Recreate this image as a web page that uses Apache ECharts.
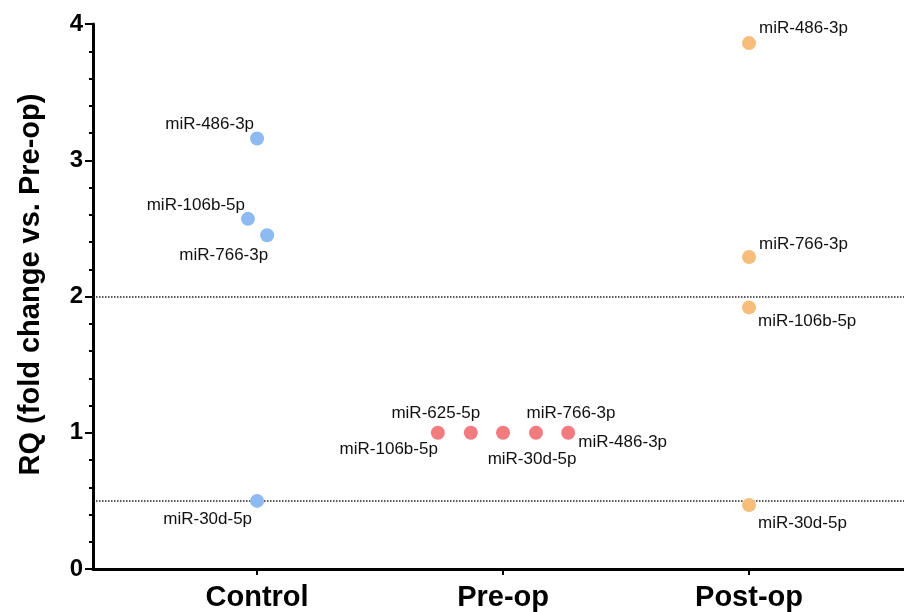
<!DOCTYPE html>
<html>
<head>
<meta charset="utf-8">
<script src="https://cdn.jsdelivr.net/npm/echarts@6/dist/echarts.min.js"></script>
<style>
html,body{margin:0;padding:0;background:#fff;}
#c{width:904px;height:612px;}
</style>
</head>
<body>
<div id="c"></div>
<script>
// ---- data ----
const categories = ['Control', 'Pre-op', 'Post-op'];
const yTicks = [0, 1, 2, 3, 4];
const thresholds = [2, 0.5];

const controlNames = ['miR-486-3p', 'miR-106b-5p', 'miR-766-3p', 'miR-30d-5p'];
const controlValues = [3.16, 2.57, 2.45, 0.50];
const controlJitter = [0, -0.037, 0.041, 0];

const preopNames = ['miR-106b-5p', 'miR-625-5p', 'miR-30d-5p', 'miR-766-3p', 'miR-486-3p'];
const preopValues = [1, 1, 1, 1, 1];
const preopJitter = [-0.265, -0.131, 0, 0.134, 0.265];

const postopNames = ['miR-486-3p', 'miR-766-3p', 'miR-106b-5p', 'miR-30d-5p'];
const postopValues = [3.86, 2.29, 1.92, 0.47];
const postopJitter = [0, 0, 0, 0];

// ---- label placement (style) ----
const controlLabelPos = [
  {position: 'left', offset: [9, -14]},
  {position: 'left', offset: [9, -14]},
  {position: 'left', offset: [13, 20]},
  {position: 'left', offset: [7, 18]}
];
const preopLabelPos = [
  {position: 'left', offset: [12, 17]},
  {position: 'top', offset: [-35, 1]},
  {position: 'bottom', offset: [29, 6]},
  {position: 'top', offset: [35, 1]},
  {position: 'right', offset: [-2, 10]}
];
const postopLabelPos = [
  {position: 'right', offset: [-2, -15]},
  {position: 'right', offset: [-2, -13]},
  {position: 'right', offset: [-3, 14]},
  {position: 'right', offset: [-3, 18]}
];

const FONT = "'Liberation Sans', Arial, Helvetica, sans-serif";

function build(catIndex, names, values, jitter, labelPos) {
  return names.map((n, i) => ({
    name: n,
    value: [catIndex + 1 + jitter[i], values[i]],
    label: {position: labelPos[i].position, offset: labelPos[i].offset}
  }));
}

const labelStyle = {show: true, formatter: '{b}', fontFamily: FONT, fontSize: 17, color: '#111', distance: 5};

const chart = echarts.init(document.getElementById('c'), null, {renderer: 'canvas'});
chart.setOption({
  animation: false,
  backgroundColor: '#ffffff',
  grid: {left: 93, right: 0, top: 24, bottom: 41, containLabel: false},
  xAxis: {
    type: 'value', min: 0.333, max: 3.63,
    axisLine: {show: true, onZero: false, lineStyle: {color: '#000', width: 3}},
    axisTick: {show: true, customValues: [1, 2, 3], length: 6, lineStyle: {color: '#000', width: 2}},
    axisLabel: {show: true, customValues: [1, 2, 3], formatter: v => categories[Math.round(v) - 1] || '',
      fontFamily: FONT, fontSize: 29, fontWeight: 'bold', color: '#000', margin: 14},
    splitLine: {show: false}
  },
  yAxis: {
    type: 'value', min: yTicks[0], max: yTicks[yTicks.length - 1], interval: 1,
    name: 'RQ (fold change vs. Pre-op)', nameLocation: 'middle', nameRotate: 90, nameGap: 48,
    nameTextStyle: {fontFamily: FONT, fontSize: 29, fontWeight: 'bold', color: '#000', padding: [0, 0, 0, 24]},
    axisLine: {show: true, lineStyle: {color: '#000', width: 3}},
    axisTick: {show: true, length: 8, lineStyle: {color: '#000', width: 2}},
    minorTick: {show: true, splitNumber: 5, length: 4, lineStyle: {color: '#000', width: 2}},
    axisLabel: {fontFamily: FONT, fontSize: 24, fontWeight: 'bold', color: '#000', margin: 10},
    splitLine: {show: false}
  },
  series: [
    {
      type: 'scatter', symbolSize: 14, z: 5,
      itemStyle: {color: '#8DBBF1', opacity: 1},
      label: labelStyle,
      data: build(0, controlNames, controlValues, controlJitter, controlLabelPos),
      markLine: {
        silent: true, symbol: 'none', label: {show: false},
        lineStyle: {type: 'dotted', color: '#222', width: 1.5},
        data: thresholds.map(t => ({yAxis: t}))
      }
    },
    {
      type: 'scatter', symbolSize: 14, z: 5,
      itemStyle: {color: '#F27B80', opacity: 1},
      label: labelStyle,
      data: build(1, preopNames, preopValues, preopJitter, preopLabelPos)
    },
    {
      type: 'scatter', symbolSize: 14, z: 5,
      itemStyle: {color: '#F6BE7A', opacity: 1},
      label: labelStyle,
      data: build(2, postopNames, postopValues, postopJitter, postopLabelPos)
    }
  ]
});
</script>
</body>
</html>
